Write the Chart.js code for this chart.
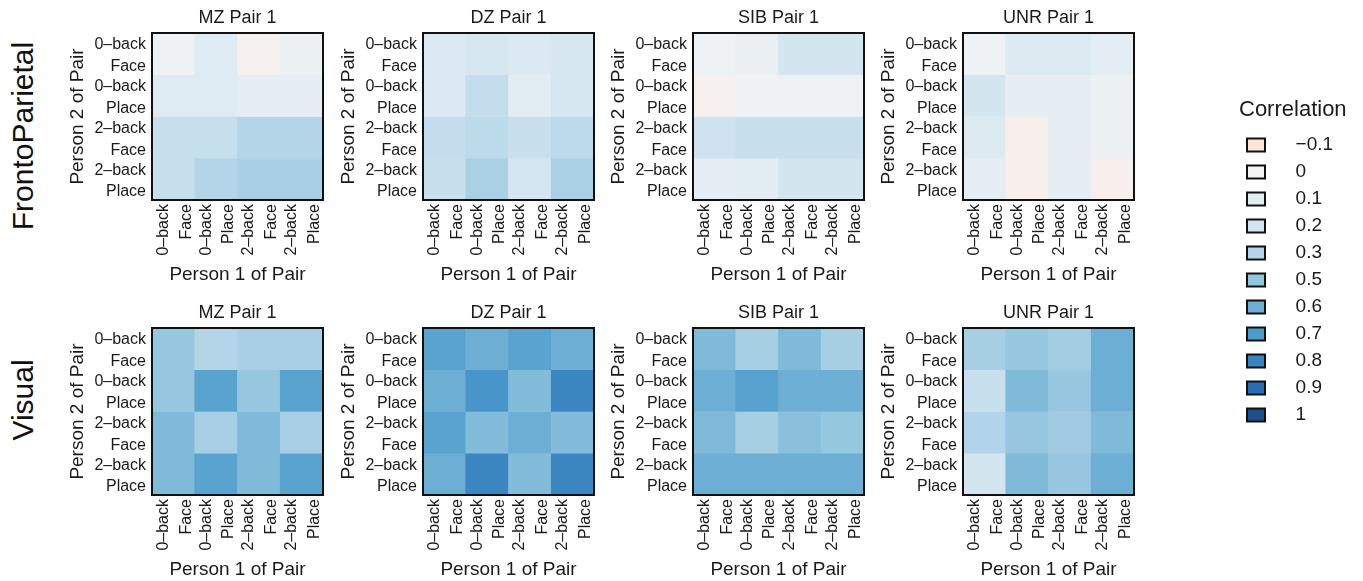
<!DOCTYPE html>
<html>
<head>
<meta charset="utf-8">
<script src="https://cdn.jsdelivr.net/npm/chart.js@4.4.1/dist/chart.umd.min.js"></script>
<style>
  html, body { margin: 0; padding: 0; background: #fff; overflow: hidden; }
  body { width: 1363px; height: 581px; position: relative; font-family: "Liberation Sans", Arial, sans-serif; }
  .panel { position: absolute; }
  .rowlab { position: absolute; font-size: 30px; color: #111; white-space: nowrap;
            transform: translate(-50%, -50%) rotate(-90deg); }
</style>
</head>
<body>
<div class="rowlab" style="left:23px;top:136px">FrontoParietal</div>
<div class="rowlab" style="left:23px;top:400px">Visual</div>
<script>
// twin-pair correlation heatmaps – 2 networks x 4 pair types, 4x4 condition grid each

// categories
const rowLabels = [['0–back', 'Face'], ['0–back', 'Place'], ['2–back', 'Face'], ['2–back', 'Place']];
const colLabels = [['0–back', 'Face'], ['0–back', 'Place'], ['2–back', 'Face'], ['2–back', 'Place']];
const pairTypes = ['MZ', 'DZ', 'SIB', 'UNR'];
const legendBreaks = [-0.1, 0, 0.1, 0.2, 0.3, 0.5, 0.6, 0.7, 0.8, 0.9, 1];

// correlations, rows = person 2 (top to bottom), cols = person 1 (left to right)
const fpMZ  = [[0.03, 0.12, -0.02, 0.04], [0.12, 0.12, 0.07, 0.07], [0.24, 0.24, 0.30, 0.30], [0.24, 0.30, 0.37, 0.37]];
const fpDZ  = [[0.14, 0.17, 0.14, 0.17], [0.14, 0.25, 0.10, 0.17], [0.25, 0.27, 0.23, 0.27], [0.23, 0.36, 0.18, 0.36]];
const fpSIB = [[0.03, 0.06, 0.19, 0.19], [-0.02, 0.03, 0.03, 0.03], [0.21, 0.23, 0.23, 0.23], [0.07, 0.10, 0.19, 0.19]];
const fpUNR = [[0.03, 0.13, 0.13, 0.09], [0.19, 0.07, 0.07, 0.04], [0.13, -0.03, 0.07, 0.04], [0.07, -0.03, 0.07, -0.03]];
const visMZ  = [[0.47, 0.30, 0.37, 0.37], [0.47, 0.66, 0.47, 0.66], [0.55, 0.37, 0.55, 0.37], [0.55, 0.66, 0.55, 0.66]];
const visDZ  = [[0.66, 0.60, 0.66, 0.60], [0.60, 0.72, 0.54, 0.79], [0.66, 0.54, 0.60, 0.54], [0.60, 0.79, 0.54, 0.79]];
const visSIB = [[0.55, 0.38, 0.55, 0.38], [0.60, 0.67, 0.60, 0.60], [0.55, 0.38, 0.52, 0.48], [0.60, 0.60, 0.60, 0.60]];
const visUNR = [[0.38, 0.47, 0.40, 0.60], [0.23, 0.55, 0.47, 0.60], [0.31, 0.47, 0.42, 0.55], [0.19, 0.55, 0.47, 0.60]];

const panelValues = [[fpMZ, fpDZ, fpSIB, fpUNR], [visMZ, visDZ, visSIB, visUNR]];

// styling
const FONT = '"Liberation Sans", Arial, sans-serif';
const TEXT = '#1a1a1a';
const colorStops = [
  [-0.1, '#fce4d6'], [0, '#f4f4f4'], [0.1, '#e1ecf3'], [0.2, '#d1e5f0'], [0.3, '#b4d5e8'],
  [0.5, '#92c5de'], [0.6, '#6caed4'], [0.7, '#4c9bcb'], [0.8, '#3a84c0'], [0.9, '#2a6bb3'], [1, '#1d4f8d']
];
const plotLeft = [152, 423, 693, 963];
const plotTop = [33, 328];
const PLOT_W = 171, PLOT_H = 167, AXIS_W = 90, TITLE_H = 33, XAXIS_H = 90;

function hexToRgb(h) {
  return [parseInt(h.slice(1, 3), 16), parseInt(h.slice(3, 5), 16), parseInt(h.slice(5, 7), 16)];
}
function heatColor(v) {
  let i = 1;
  while (i < colorStops.length - 1 && v > colorStops[i][0]) i++;
  const [v0, c0] = colorStops[i - 1], [v1, c1] = colorStops[i];
  const t = Math.max(0, Math.min(1, (v - v0) / (v1 - v0)));
  const a = hexToRgb(c0), b = hexToRgb(c1);
  const mix = a.map((x, k) => Math.round(x + (b[k] - x) * t));
  return `rgb(${mix[0]},${mix[1]},${mix[2]})`;
}
function fmtBreak(v) {
  return v < 0 ? '−' + Math.abs(v) : String(v);
}

// black box round each plot area
const framePlugin = {
  id: 'panelFrame',
  afterDatasetsDraw(chart) {
    const { ctx, chartArea: a } = chart;
    ctx.save();
    ctx.strokeStyle = '#111';
    ctx.lineWidth = 2;
    ctx.strokeRect(a.left, a.top, a.right - a.left, a.bottom - a.top);
    ctx.restore();
  }
};

function makePanel(r, c) {
  const values = panelValues[r][c];
  const canvas = document.createElement('canvas');
  canvas.className = 'panel';
  canvas.width = PLOT_W + 2 * AXIS_W;
  canvas.height = TITLE_H + PLOT_H + XAXIS_H;
  canvas.style.left = (plotLeft[c] - AXIS_W) + 'px';
  canvas.style.top = (plotTop[r] - TITLE_H) + 'px';
  document.body.appendChild(canvas);

  new Chart(canvas, {
    type: 'bar',
    data: {
      labels: colLabels,
      datasets: values.map((row, i) => ({
        label: rowLabels[i].join(' '),
        data: row.map(() => 1),
        backgroundColor: row.map(heatColor),
        borderWidth: 0,
        barPercentage: 1,
        categoryPercentage: 1
      }))
    },
    options: {
      responsive: false,
      animation: false,
      plugins: {
        legend: { display: false },
        tooltip: { enabled: false },
        title: {
          display: true, text: pairTypes[c] + ' Pair 1', color: TEXT, align: 'center',
          font: { size: 18, family: FONT, weight: 'normal' },
          padding: { top: 7, bottom: 4.4 }
        }
      },
      scales: {
        x: {
          stacked: true,
          grid: { display: false, drawTicks: false },
          border: { display: false },
          ticks: {
            color: TEXT, font: { size: 16, family: FONT, lineHeight: 1.42 },
            minRotation: 90, maxRotation: 90, autoSkip: false, padding: 4, labelOffset: -10
          },
          title: { display: true, text: 'Person 1 of Pair', color: TEXT, font: { size: 19, family: FONT }, padding: 4 },
          afterFit: s => { s.height = XAXIS_H; }
        },
        y: {
          type: 'linear', stacked: true, reverse: true, min: 0, max: 4,
          grid: { display: false, drawTicks: false },
          border: { display: false },
          afterBuildTicks: s => { s.ticks = rowLabels.map((_, i) => ({ value: i + 0.5 })); },
          ticks: {
            color: TEXT, font: { size: 16, family: FONT, lineHeight: 1.35 }, padding: 6, labelOffset: 2,
            callback: v => rowLabels[Math.floor(v)]
          },
          title: { display: true, text: 'Person 2 of Pair', color: TEXT, font: { size: 19, family: FONT }, padding: 4 },
          afterFit: s => { s.width = AXIS_W; }
        },
        // empty right-hand spacer so the title centres over the plot
        yPad: {
          type: 'linear', position: 'right', display: true,
          grid: { display: false, drawTicks: false },
          border: { display: false },
          ticks: { display: false },
          afterFit: s => { s.width = AXIS_W; }
        }
      }
    },
    plugins: [framePlugin]
  });
}

for (let r = 0; r < 2; r++) {
  for (let c = 0; c < 4; c++) makePanel(r, c);
}

// legend, drawn by the Chart.js legend plugin
const legendCanvas = document.createElement('canvas');
legendCanvas.className = 'panel';
legendCanvas.width = 400;
legendCanvas.height = 360;
legendCanvas.style.left = '1239px';
legendCanvas.style.top = '99px';
document.body.appendChild(legendCanvas);

new Chart(legendCanvas, {
  type: 'bar',
  data: {
    labels: [],
    datasets: legendBreaks.map(v => ({ label: fmtBreak(v), data: [], backgroundColor: heatColor(v) }))
  },
  options: {
    responsive: false,
    animation: false,
    scales: { x: { display: false }, y: { display: false } },
    plugins: {
      tooltip: { enabled: false },
      legend: {
        position: 'left',
        align: 'start',
        maxWidth: 300,
        title: {
          display: true, text: 'Correlation', position: 'start', color: TEXT,
          font: { size: 22, family: FONT }, padding: { top: 0, bottom: 2 }
        },
        labels: {
          boxWidth: 18, boxHeight: 13, padding: 8, color: TEXT,
          font: { size: 19, family: FONT },
          generateLabels: chart => chart.data.datasets.map((ds, i) => ({
            text: '    ' + ds.label + '      ',
            fillStyle: ds.backgroundColor,
            strokeStyle: '#111',
            lineWidth: 2,
            fontColor: TEXT,
            hidden: false,
            datasetIndex: i
          }))
        }
      }
    }
  }
});
</script>
</body>
</html>
